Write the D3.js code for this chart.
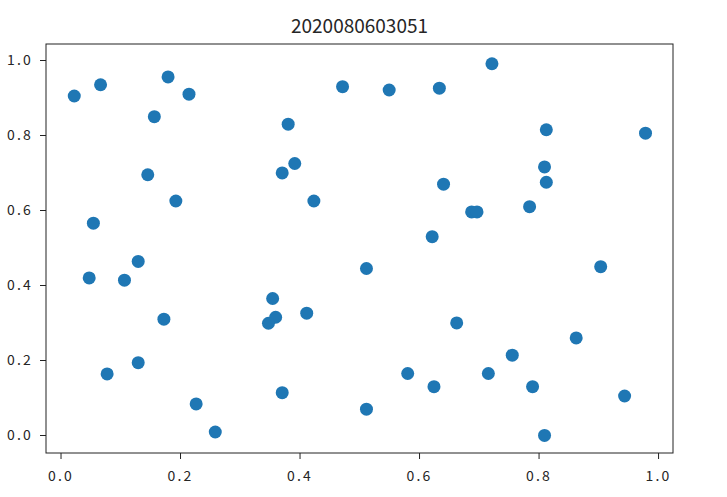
<!DOCTYPE html>
<html>
<head>
<meta charset="utf-8">
<script src="https://cdn.jsdelivr.net/npm/d3@7"></script>
<style>
  body { margin: 0; background: #fff; }
  svg text { font-family: "Noto Sans CJK SC", "DejaVu Sans", sans-serif; fill: #262626; }
</style>
</head>
<body>
<div id="chart"></div>
<script>
const title = '2020080603051';

// 散点数据
const xs = [0.023, 0.067, 0.180, 0.215, 0.157, 0.146, 0.193, 0.055, 0.472, 0.381,
            0.392, 0.371, 0.424, 0.550, 0.634, 0.722, 0.813, 0.979, 0.810, 0.813,
            0.641, 0.688, 0.697, 0.785, 0.622, 0.130, 0.048, 0.107, 0.355, 0.173,
            0.360, 0.348, 0.412, 0.130, 0.078, 0.371, 0.227, 0.259, 0.512, 0.512,
            0.904, 0.663, 0.863, 0.756, 0.581, 0.716, 0.625, 0.790, 0.944, 0.810];
const ys = [0.904, 0.934, 0.955, 0.909, 0.849, 0.694, 0.624, 0.565, 0.929, 0.829,
            0.724, 0.699, 0.624, 0.920, 0.925, 0.990, 0.814, 0.805, 0.715, 0.674,
            0.669, 0.595, 0.595, 0.609, 0.529, 0.463, 0.419, 0.413, 0.364, 0.309,
            0.314, 0.298, 0.325, 0.193, 0.163, 0.113, 0.083, 0.008, 0.444, 0.069,
            0.449, 0.299, 0.259, 0.213, 0.164, 0.164, 0.129, 0.129, 0.104, -0.001];
const ticks = [0, 0.2, 0.4, 0.6, 0.8, 1.0];

const W = 727, H = 497;
const margin = {top: 44, right: 54, bottom: 44, left: 46};
const w = W - margin.left - margin.right;
const h = H - margin.top - margin.bottom;

const svg = d3.select('#chart').append('svg')
  .attr('width', W).attr('height', H);

const g = svg.append('g')
  .attr('transform', `translate(${margin.left},${margin.top})`);

const x = d3.scaleLinear().domain([-0.0243, 1.025]).range([0, w]);
const y = d3.scaleLinear().domain([-0.048, 1.0427]).range([h, 0]);

const fmt = d3.format('.1f');

// 坐标轴
const xAxis = g.append('g')
  .attr('transform', `translate(0,${h})`)
  .call(d3.axisBottom(x).tickValues(ticks).tickFormat(fmt).tickSize(6).tickPadding(12));
const yAxis = g.append('g')
  .call(d3.axisLeft(y).tickValues(ticks).tickFormat(fmt).tickSize(6).tickPadding(7));

[xAxis, yAxis].forEach(a => {
  a.select('.domain').remove();
  a.selectAll('.tick line').attr('stroke', '#222').attr('stroke-width', 1);
  a.selectAll('.tick text')
    .attr('font-size', 14)
    .attr('letter-spacing', 2.2)
    .attr('fill', '#333')
    .style('font-family', '"Noto Sans CJK SC", "DejaVu Sans", sans-serif');
});

// 点
g.selectAll('circle')
  .data(xs.map((d, i) => ({x: d, y: ys[i]})))
  .enter()
  .append('circle')
  .attr('cx', d => x(d.x))
  .attr('cy', d => y(d.y))
  .attr('r', 6.5)
  .attr('fill', '#1f77b4');

// 边框
g.append('rect')
  .attr('width', w).attr('height', h)
  .attr('fill', 'none')
  .attr('stroke', '#222')
  .attr('stroke-width', 1);

// 标题
svg.append('text')
  .attr('x', margin.left + w / 2)
  .attr('y', 33)
  .attr('text-anchor', 'middle')
  .attr('font-size', 19)
  .text(title);
</script>
</body>
</html>
